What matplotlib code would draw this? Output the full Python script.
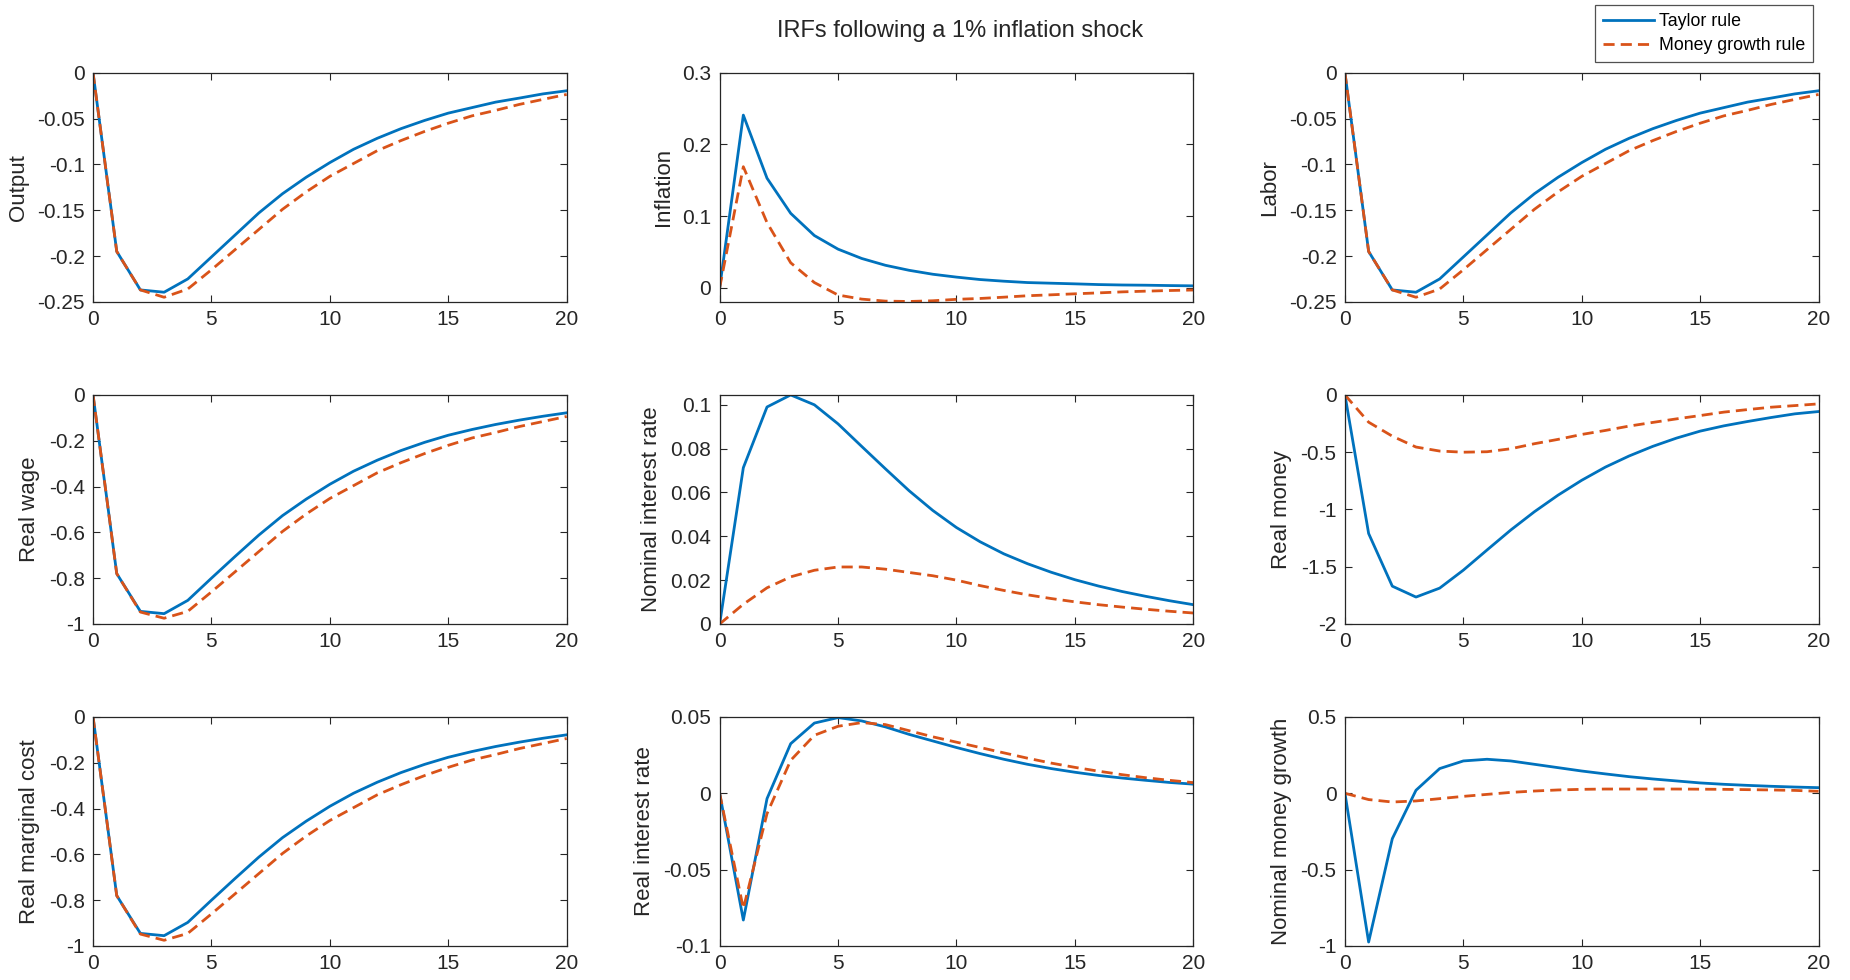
import matplotlib
matplotlib.use("Agg")
import matplotlib.pyplot as plt
from matplotlib.ticker import FuncFormatter
import numpy as np

plt.rcParams['font.family'] = ['Liberation Sans', 'DejaVu Sans']
plt.rcParams['axes.unicode_minus'] = False

# horizon (quarters)
periods = list(range(21))

# responses under the Taylor rule / the money growth rule
output_taylor = [0, -0.195, -0.237, -0.2395, -0.225, -0.201, -0.177, -0.153, -0.132, -0.114,
                 -0.098, -0.0835, -0.0715, -0.061, -0.052, -0.044, -0.038, -0.032, -0.0276, -0.023, -0.0196]
output_money = [0, -0.195, -0.237, -0.245, -0.236, -0.215, -0.193, -0.171, -0.149, -0.130,
                -0.113, -0.099, -0.085, -0.074, -0.064, -0.055, -0.047, -0.041, -0.0345, -0.029, -0.0236]

inflation_taylor = [0, 0.241, 0.153, 0.104, 0.073, 0.054, 0.041, 0.0315, 0.0245, 0.019,
                    0.015, 0.0116, 0.0093, 0.0074, 0.0065, 0.0056, 0.0046, 0.004, 0.0037, 0.0032, 0.0028]
inflation_money = [0, 0.169, 0.091, 0.035, 0.0074, -0.010, -0.0157, -0.0185, -0.019, -0.018,
                   -0.016, -0.0148, -0.013, -0.011, -0.0097, -0.0083, -0.007, -0.0056, -0.0046, -0.0037, -0.003]

labor_taylor = [0, -0.195, -0.237, -0.2395, -0.225, -0.201, -0.177, -0.153, -0.132, -0.114,
                -0.098, -0.0835, -0.0715, -0.061, -0.052, -0.044, -0.038, -0.032, -0.0276, -0.023, -0.0196]
labor_money = [0, -0.195, -0.237, -0.245, -0.236, -0.215, -0.193, -0.171, -0.149, -0.130,
               -0.113, -0.099, -0.085, -0.074, -0.064, -0.055, -0.047, -0.041, -0.0345, -0.029, -0.0236]

wage_taylor = [0, -0.78, -0.945, -0.955, -0.897, -0.80, -0.705, -0.612, -0.527, -0.455,
               -0.39, -0.333, -0.285, -0.243, -0.207, -0.176, -0.151, -0.129, -0.11, -0.093, -0.078]
wage_money = [0, -0.78, -0.948, -0.975, -0.945, -0.86, -0.772, -0.684, -0.596, -0.52,
              -0.452, -0.396, -0.34, -0.296, -0.256, -0.22, -0.188, -0.164, -0.138, -0.116, -0.094]

nominal_rate_taylor = [0, 0.0713, 0.099, 0.1045, 0.100, 0.0913, 0.081, 0.0708, 0.0608, 0.0518,
                       0.0440, 0.0375, 0.0320, 0.0275, 0.0236, 0.0202, 0.0173, 0.0148, 0.0126, 0.0106, 0.0088]
nominal_rate_money = [0, 0.009, 0.0165, 0.0215, 0.0245, 0.026, 0.026, 0.025, 0.0235, 0.022,
                      0.020, 0.0175, 0.0153, 0.0133, 0.0116, 0.0101, 0.0088, 0.0077, 0.0067, 0.0058, 0.005]

real_money_taylor = [0, -1.21, -1.67, -1.765, -1.687, -1.53, -1.354, -1.18, -1.02, -0.875,
                     -0.745, -0.63, -0.533, -0.449, -0.377, -0.316, -0.27, -0.232, -0.197, -0.165, -0.145]
real_money_money = [0, -0.238, -0.36, -0.455, -0.49, -0.50, -0.496, -0.47, -0.426, -0.388,
                    -0.345, -0.31, -0.272, -0.24, -0.209, -0.18, -0.15, -0.128, -0.107, -0.093, -0.078]

mc_taylor = [0, -0.78, -0.945, -0.955, -0.897, -0.80, -0.705, -0.612, -0.527, -0.455,
             -0.39, -0.333, -0.285, -0.243, -0.207, -0.176, -0.151, -0.129, -0.11, -0.093, -0.078]
mc_money = [0, -0.78, -0.948, -0.975, -0.945, -0.86, -0.772, -0.684, -0.596, -0.52,
            -0.452, -0.396, -0.34, -0.296, -0.256, -0.22, -0.188, -0.164, -0.138, -0.116, -0.094]

real_rate_taylor = [0, -0.083, -0.0035, 0.0325, 0.046, 0.0496, 0.0474, 0.0435, 0.0386, 0.0343,
                    0.030, 0.026, 0.0223, 0.019, 0.0162, 0.0138, 0.0117, 0.010, 0.0085, 0.0071, 0.006]
real_rate_money = [0, -0.0755, -0.0133, 0.0216, 0.038, 0.0439, 0.0463, 0.045, 0.041, 0.037,
                   0.0335, 0.030, 0.0265, 0.023, 0.0198, 0.017, 0.0145, 0.0122, 0.0102, 0.0085, 0.007]

money_growth_taylor = [0, -0.974, -0.297, 0.02, 0.162, 0.212, 0.223, 0.212, 0.19, 0.168,
                       0.146, 0.127, 0.109, 0.094, 0.081, 0.068, 0.059, 0.052, 0.046, 0.041, 0.037]
money_growth_money = [0, -0.041, -0.057, -0.05, -0.035, -0.02, -0.007, 0.006, 0.015, 0.022,
                      0.026, 0.028, 0.028, 0.028, 0.028, 0.027, 0.026, 0.024, 0.022, 0.019, 0.013]

panel_labels = ['Output', 'Inflation', 'Labor',
                'Real wage', 'Nominal interest rate', 'Real money',
                'Real marginal cost', 'Real interest rate', 'Nominal money growth']
taylor_series = [output_taylor, inflation_taylor, labor_taylor,
                 wage_taylor, nominal_rate_taylor, real_money_taylor,
                 mc_taylor, real_rate_taylor, money_growth_taylor]
money_series = [output_money, inflation_money, labor_money,
                wage_money, nominal_rate_money, real_money_money,
                mc_money, real_rate_money, money_growth_money]
y_limits = [(-0.25, 0), (-0.0195, 0.3), (-0.25, 0),
            (-1, 0), (0, 0.1045), (-2, 0),
            (-1, 0), (-0.1, 0.05), (-1, 0.5)]
y_ticks = [[-0.25, -0.2, -0.15, -0.1, -0.05, 0], [0, 0.1, 0.2, 0.3], [-0.25, -0.2, -0.15, -0.1, -0.05, 0],
           [-1, -0.8, -0.6, -0.4, -0.2, 0], [0, 0.02, 0.04, 0.06, 0.08, 0.1], [-2, -1.5, -1, -0.5, 0],
           [-1, -0.8, -0.6, -0.4, -0.2, 0], [-0.1, -0.05, 0, 0.05], [-1, -0.5, 0, 0.5]]

BLUE = '#0072BD'
ORANGE = '#D95319'
DARK = '#262626'

fig = plt.figure(figsize=(18.5, 9.8), dpi=100)

col_left = [0.0503, 0.389, 0.727]
row_bottom = [0.692, 0.3633, 0.0347]
ax_w = 0.256
ax_h = 0.2337

fmt = FuncFormatter(lambda v, p: '{:g}'.format(round(v, 6)))

handles = None
for k in range(9):
    r, c = divmod(k, 3)
    ax = fig.add_axes([col_left[c], row_bottom[r], ax_w, ax_h])
    h1, = ax.plot(periods, taylor_series[k], color=BLUE, lw=2.0, label='Taylor rule')
    h2, = ax.plot(periods, money_series[k], color=ORANGE, lw=2.0, ls=(0, (4, 2.2)),
                  label='Money growth rule')
    if handles is None:
        handles = [h1, h2]
    ax.set_xlim(0, 20)
    ax.set_ylim(*y_limits[k])
    ax.set_xticks([0, 5, 10, 15, 20])
    ax.set_yticks(y_ticks[k])
    ax.yaxis.set_major_formatter(fmt)
    ax.tick_params(direction='in', top=True, right=True, length=5, width=0.8,
                   labelsize=15, colors=DARK, pad=6)
    for sp in ax.spines.values():
        sp.set_color(DARK)
        sp.set_linewidth(0.9)
    ax.set_ylabel(panel_labels[k], fontsize=16, color=DARK, labelpad=6)

fig.text(0.519, 0.968, 'IRFs following a 1% inflation shock', ha='center', va='center',
         fontsize=17, color=DARK)

leg = fig.legend(handles=handles, loc='upper right', bbox_to_anchor=(0.980, 0.995),
                 fontsize=12.8, frameon=True, fancybox=False, handlelength=2.9,
                 handletextpad=0.25, borderpad=0.45, labelspacing=0.42, borderaxespad=0)
leg.get_frame().set_edgecolor(DARK)
leg.get_frame().set_linewidth(0.9)

fig.savefig('out.png', dpi=100)
